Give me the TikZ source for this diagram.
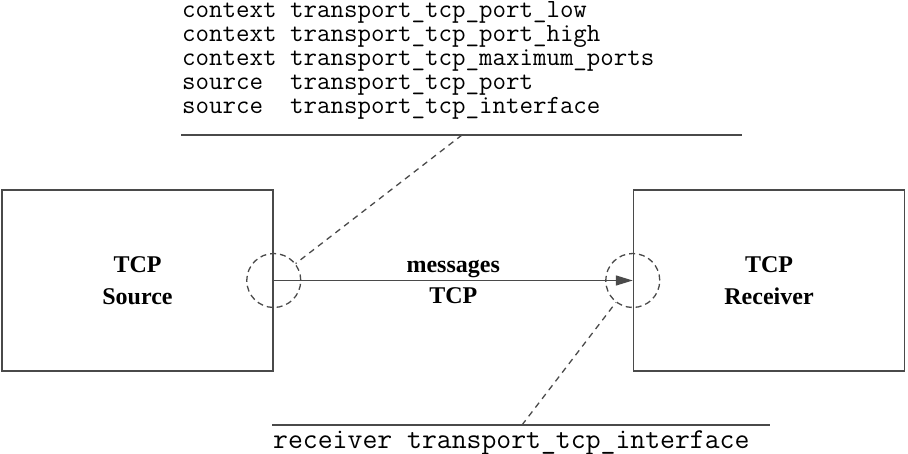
\documentclass[tikz,border=0pt]{standalone}
\usepackage{fontspec}
\setmainfont{Liberation Serif}
\usetikzlibrary{arrows.meta,positioning}
\definecolor{linegray}{HTML}{4A4A4A}
\tikzset{
  unitbox/.style={draw=linegray, line width=1.5pt, minimum width=271pt, minimum height=181pt, align=center, font=\fontsize{24}{32}\selectfont\bfseries},
  portcirc/.style={draw=linegray, circle, line width=1.3pt, dash pattern=on 6pt off 4pt, minimum size=54pt, inner sep=0pt}
}
\begin{document}
\begin{tikzpicture}[x=1pt, y=-1pt, >={Triangle[length=17pt, width=10pt]},
  attrtext/.style={font=\fontsize{26.2}{24}\selectfont\ttfamily, align=left, inner sep=0pt},
  attrtextb/.style={font=\fontsize{28.9}{24}\selectfont\ttfamily, inner sep=0pt},
  rule/.style={draw=linegray, line width=1.5pt},
  leader/.style={draw=linegray, line width=1.3pt, dash pattern=on 6pt off 5pt},
  msg/.style={font=\fontsize{24}{28}\selectfont\bfseries, inner sep=2pt}]
\useasboundingbox (0,0) rectangle (908,454);
\node[unitbox] (src) at (137.5,280.5) {TCP\\Source};
\node[unitbox] (rcv) at (769,280.5) {TCP\\Receiver};
\node[portcirc] (srcport) at (src.east) {};
\node[portcirc] (rcvport) at (rcv.west) {};
\draw[->, linegray, line width=1.5pt] (src.east) -- (rcv.west)
  node[midway, above, msg, text=black] (msgname) {messages}
  node[midway, below=4pt, msg, text=black] (msgtype) {TCP};
% attributes of the source
\node[attrtext, anchor=base west] (srcattr) at (182,114) {context transport\_tcp\_port\_low\\
context transport\_tcp\_port\_high\\
context transport\_tcp\_maximum\_ports\\
source\ \ transport\_tcp\_port\\
source\ \ transport\_tcp\_interface};
\coordinate (srcrulel) at (181,135);
\coordinate (srcruler) at (742,135);
\coordinate (srctap) at (462,135);
\draw[rule] (srcrulel) -- (srcruler);
\draw[leader] (srctap) -- (srcport);
% attributes of the receiver
\node[attrtextb, anchor=base west] (rcvattr) at (273,448) {receiver transport\_tcp\_interface};
\coordinate (rcvrulel) at (272,425);
\coordinate (rcvruler) at (770,425);
\coordinate (rcvtap) at (522,425);
\draw[rule] (rcvrulel) -- (rcvruler);
\draw[leader] (rcvtap) -- (rcvport);
\end{tikzpicture}
\end{document}
